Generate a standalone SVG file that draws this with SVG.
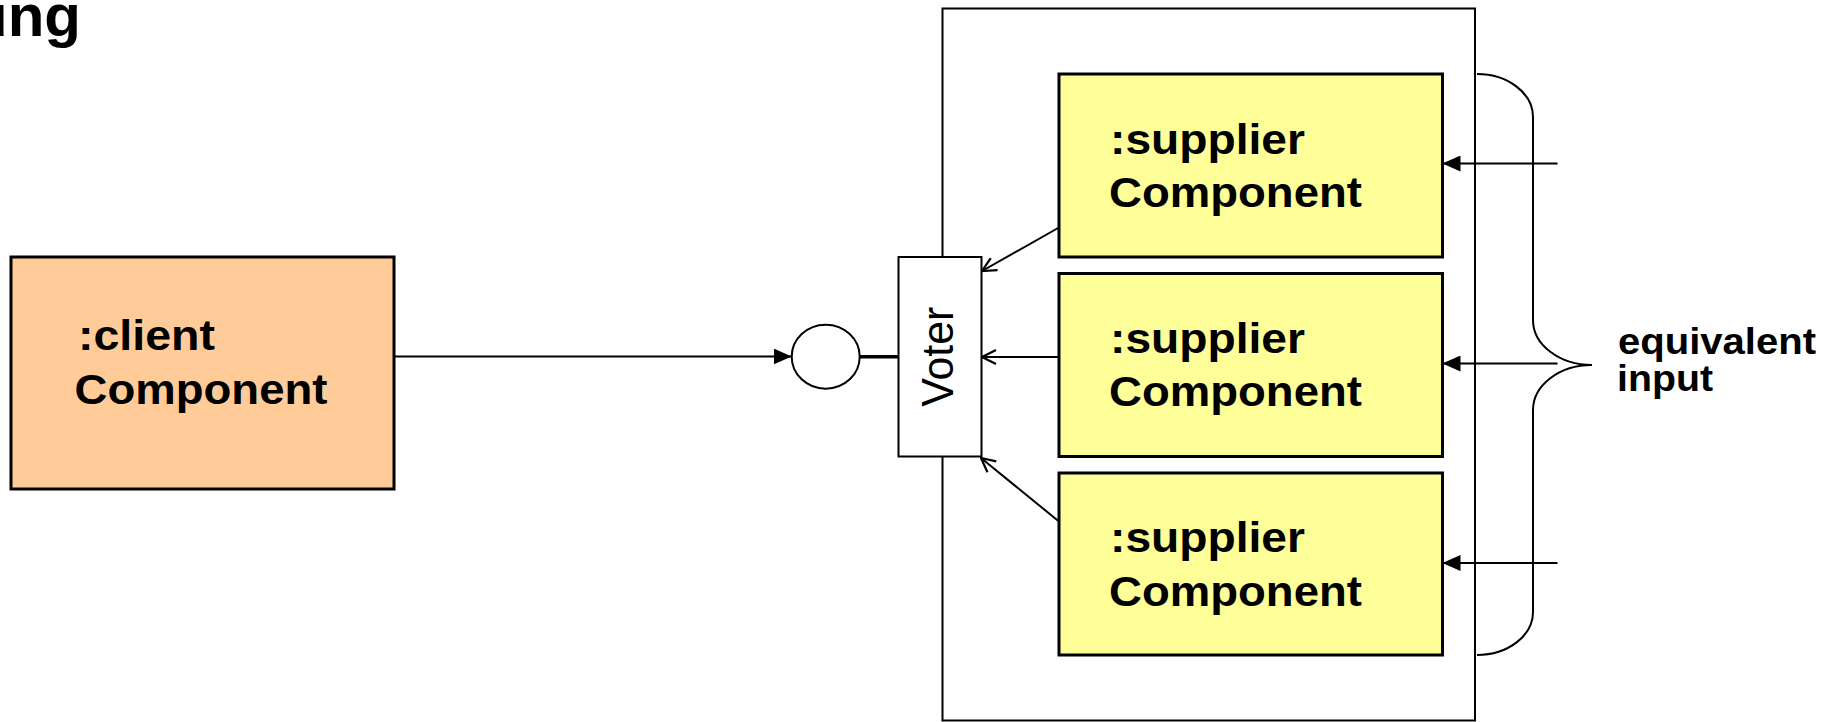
<svg xmlns="http://www.w3.org/2000/svg" width="1840" height="722" viewBox="0 0 1840 722">
  <style>
    .lbl { font-family: "Liberation Sans", Arial, sans-serif; font-weight: bold; fill: #000; }
    .box { stroke: #000; stroke-width: 3; }
    .client { fill: #FFCC99; }
    .supplier { fill: #FFFF99; }
    .line { stroke: #000; stroke-width: 2; fill: none; }
  </style>
  <defs>
    <marker id="solid" markerWidth="18" markerHeight="16" refX="18" refY="8" orient="auto" markerUnits="userSpaceOnUse">
      <path d="M0,0 L18,8 L0,16 Z" fill="#000"/>
    </marker>
    <marker id="open" markerWidth="16" markerHeight="16" refX="15" refY="8" orient="auto" markerUnits="userSpaceOnUse">
      <path d="M1,1 L15,8 L1,15" fill="none" stroke="#000" stroke-width="2.2"/>
    </marker>
  </defs>

  <rect width="1840" height="722" fill="#fff"/>

  <!-- heading, cut at the left edge -->
  <text class="lbl" x="81" y="36" font-size="60" text-anchor="end">ung</text>

  <!-- container holding the redundant suppliers -->
  <g id="container">
    <rect x="942.5" y="8.5" width="532.5" height="712" fill="none" stroke="#000" stroke-width="2"/>
  </g>

  <g id="client">
    <rect class="box client" x="11" y="257" width="383" height="232"/>
    <text class="lbl" x="78" y="350" font-size="42" textLength="137" lengthAdjust="spacingAndGlyphs">:client</text>
    <text class="lbl" x="74.5" y="403.5" font-size="42" textLength="253" lengthAdjust="spacingAndGlyphs">Component</text>
  </g>

  <g id="interface">
    <ellipse cx="825.7" cy="356.7" rx="34" ry="32" fill="#fff" stroke="#000" stroke-width="2"/>
  </g>

  <g id="voter">
    <rect x="898.5" y="257" width="83" height="199.5" fill="#fff" stroke="#000" stroke-width="2"/>
    <text transform="translate(952.5,406.7) rotate(-90)" x="0" y="0" font-family="'Liberation Sans', Arial, sans-serif" font-size="44" textLength="100" lengthAdjust="spacingAndGlyphs">Voter</text>
  </g>

  <g id="supplier1">
    <rect class="box supplier" x="1059" y="74" width="383.5" height="183"/>
    <text class="lbl" x="1110" y="154" font-size="42" textLength="195" lengthAdjust="spacingAndGlyphs">:supplier</text>
    <text class="lbl" x="1109" y="207" font-size="42" textLength="253" lengthAdjust="spacingAndGlyphs">Component</text>
  </g>

  <g id="supplier2">
    <rect class="box supplier" x="1059" y="273.5" width="383.5" height="183"/>
    <text class="lbl" x="1110" y="353" font-size="42" textLength="195" lengthAdjust="spacingAndGlyphs">:supplier</text>
    <text class="lbl" x="1109" y="406" font-size="42" textLength="253" lengthAdjust="spacingAndGlyphs">Component</text>
  </g>

  <g id="supplier3">
    <rect class="box supplier" x="1059" y="473" width="383.5" height="182"/>
    <text class="lbl" x="1110" y="552" font-size="42" textLength="195" lengthAdjust="spacingAndGlyphs">:supplier</text>
    <text class="lbl" x="1109" y="605.5" font-size="42" textLength="253" lengthAdjust="spacingAndGlyphs">Component</text>
  </g>

  <g id="brace">
    <path class="line" d="M1477,74 A56,43 0 0 1 1533,117 L1533,320 A59,45 0 0 0 1592,365 A59,45 0 0 0 1533,410 L1533,612 A56,43 0 0 1 1477,655"/>
    <text class="lbl" x="1618" y="353.5" font-size="36" textLength="198" lengthAdjust="spacingAndGlyphs">equivalent</text>
    <text class="lbl" x="1617" y="391" font-size="36" textLength="96" lengthAdjust="spacingAndGlyphs">input</text>
  </g>

  <g id="connectors">
    <!-- client to the provided interface -->
    <line class="line" x1="394" y1="356.5" x2="791.7" y2="356.5" marker-end="url(#solid)"/>
    <!-- interface to voter -->
    <line x1="859.7" y1="356.7" x2="898.5" y2="356.7" stroke="#000" stroke-width="3.5"/>
    <!-- suppliers to voter -->
    <line class="line" x1="1059" y1="227.5" x2="982" y2="271" marker-end="url(#open)"/>
    <line class="line" x1="1059" y1="357" x2="982" y2="357" marker-end="url(#open)"/>
    <line class="line" x1="1059" y1="521.5" x2="981" y2="458" marker-end="url(#open)"/>
    <!-- equivalent inputs -->
    <line class="line" x1="1557.5" y1="163.5" x2="1442.5" y2="163.5" marker-end="url(#solid)"/>
    <line class="line" x1="1557.5" y1="363.5" x2="1442.5" y2="363.5" marker-end="url(#solid)"/>
    <line class="line" x1="1557.5" y1="563" x2="1442.5" y2="563" marker-end="url(#solid)"/>
  </g>
</svg>
